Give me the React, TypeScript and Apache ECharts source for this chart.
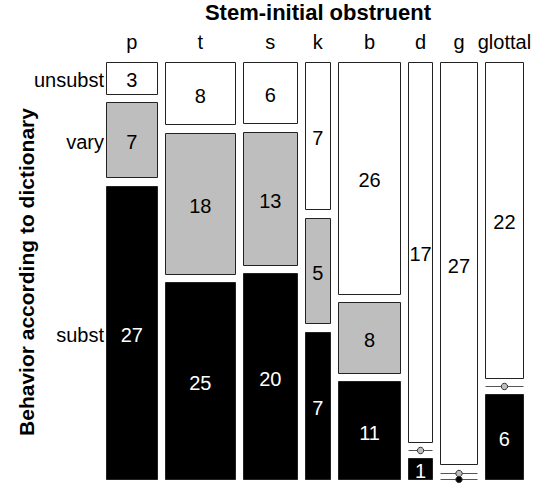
import React, { useEffect, useRef } from "react";
import * as echarts from "echarts";

const columns = ["p", "t", "s", "k", "b", "d", "g", "glottal"];
const rows = ["unsubst", "vary", "subst"];
const unsubstCounts = [3, 8, 6, 7, 26, 17, 27, 22];
const varyCounts = [7, 18, 13, 5, 8, 0, 0, 0];
const substCounts = [27, 25, 20, 7, 11, 1, 0, 6];
const xTitle = "Stem-initial obstruent";
const yTitle = "Behavior according to dictionary";

const rowFills = ["#ffffff", "#bebebe", "#000000"];
const rowTextColors = ["#000000", "#000000", "#ffffff"];
const FONT = "Liberation Sans, Arial, Helvetica, sans-serif";

const GX = 7 / 418; // horizontal gap (fraction of plot)
const GY = 7.5 / 418; // vertical gap (fraction of plot)

function buildLayout() {
  const counts = [unsubstCounts, varyCounts, substCounts];
  const colTotals = columns.map((_, i) => counts.reduce((s, r) => s + r[i], 0));
  const grand = colTotals.reduce((a, b) => a + b, 0);
  const usableW = 1 - (columns.length - 1) * GX;
  const usableH = 1 - (rows.length - 1) * GY;
  const cells: number[][] = [];
  const colCenters: number[][] = [];
  const rowCenters: number[][] = [];
  let x = 0;
  columns.forEach((_, i) => {
    const w = (usableW * colTotals[i]) / grand;
    colCenters.push([i, x + w / 2]);
    let y = 0;
    rows.forEach((__, r) => {
      const h = (usableH * counts[r][i]) / colTotals[i];
      cells.push([x, x + w, y, y + h, counts[r][i], r]);
      if (i === 0) rowCenters.push([r, y + h / 2]);
      y += h + GY;
    });
    x += w + GX;
  });
  return { cells, colCenters, rowCenters };
}

export default function App() {
  const ref = useRef<HTMLDivElement>(null);
  useEffect(() => {
    if (!ref.current) return;
    const chart = echarts.init(ref.current, undefined, { renderer: "svg" });
    const { cells, colCenters, rowCenters } = buildLayout();
    const snap = (v: number) => Math.round(v) + 0.5;
    chart.setOption({
      animation: false,
      grid: { left: 106, top: 62, width: 418, height: 418 },
      xAxis: { type: "value", min: 0, max: 1, show: false },
      yAxis: { type: "value", min: 0, max: 1, inverse: true, show: false },
      graphic: [
        {
          type: "text",
          x: 318,
          y: 12,
          style: {
            text: xTitle,
            align: "center",
            verticalAlign: "middle",
            font: `bold 22px ${FONT}`,
            fill: "#000",
          },
        },
        {
          type: "text",
          x: 26,
          y: 272,
          rotation: Math.PI / 2,
          style: {
            text: yTitle,
            align: "center",
            verticalAlign: "middle",
            font: `bold 21px ${FONT}`,
            fill: "#000",
          },
        },
      ],
      series: [
        {
          type: "custom",
          clip: false,
          data: cells,
          renderItem: (params: any, api: any) => {
            const x0 = api.value(0), x1 = api.value(1), y0 = api.value(2), y1 = api.value(3);
            const n = api.value(4), r = api.value(5);
            const p0 = api.coord([x0, y0]);
            const p1 = api.coord([x1, y1]);
            const left = snap(p0[0]), right = snap(p1[0]) - 1;
            const top = snap(p0[1]), bottom = snap(p1[1]) - 1;
            const cx = (p0[0] + p1[0]) / 2;
            if (n > 0) {
              return {
                type: "group",
                children: [
                  {
                    type: "rect",
                    shape: { x: left, y: top, width: right - left, height: bottom - top },
                    style: { fill: rowFills[r], stroke: "#222", lineWidth: 1 },
                  },
                  {
                    type: "text",
                    style: {
                      text: String(n),
                      x: cx,
                      y: (p0[1] + p1[1]) / 2 + 2,
                      align: "center",
                      verticalAlign: "middle",
                      font: `20px ${FONT}`,
                      fill: rowTextColors[r],
                    },
                  },
                ],
              };
            }
            const ly = Math.min(snap(p0[1]), 479.5);
            return {
              type: "group",
              children: [
                {
                  type: "line",
                  shape: { x1: left, y1: ly, x2: right, y2: ly },
                  style: { stroke: "#555", lineWidth: 1 },
                },
                {
                  type: "circle",
                  shape: { cx: cx, cy: ly, r: 3.2 },
                  style: { fill: r === 2 ? "#000" : "#bebebe", stroke: "#333", lineWidth: 1 },
                },
              ],
            };
          },
        },
        {
          type: "custom",
          clip: false,
          data: colCenters,
          renderItem: (params: any, api: any) => {
            const i = api.value(0);
            const p = api.coord([api.value(1), 0]);
            return {
              type: "text",
              style: {
                text: columns[i],
                x: p[0],
                y: p[1] - 20,
                align: "center",
                verticalAlign: "middle",
                font: `20px ${FONT}`,
                fill: "#000",
              },
            };
          },
        },
        {
          type: "custom",
          clip: false,
          data: rowCenters,
          renderItem: (params: any, api: any) => {
            const r = api.value(0);
            const p = api.coord([0, api.value(1)]);
            return {
              type: "text",
              style: {
                text: rows[r],
                x: p[0] - 2,
                y: p[1] + 2,
                align: "right",
                verticalAlign: "middle",
                font: `20px ${FONT}`,
                fill: "#000",
              },
            };
          },
        },
      ],
    });
    return () => chart.dispose();
  }, []);
  return (
    <div
      ref={ref}
      style={{ position: "absolute", left: 0, top: 0, width: 534, height: 483 }}
    />
  );
}
